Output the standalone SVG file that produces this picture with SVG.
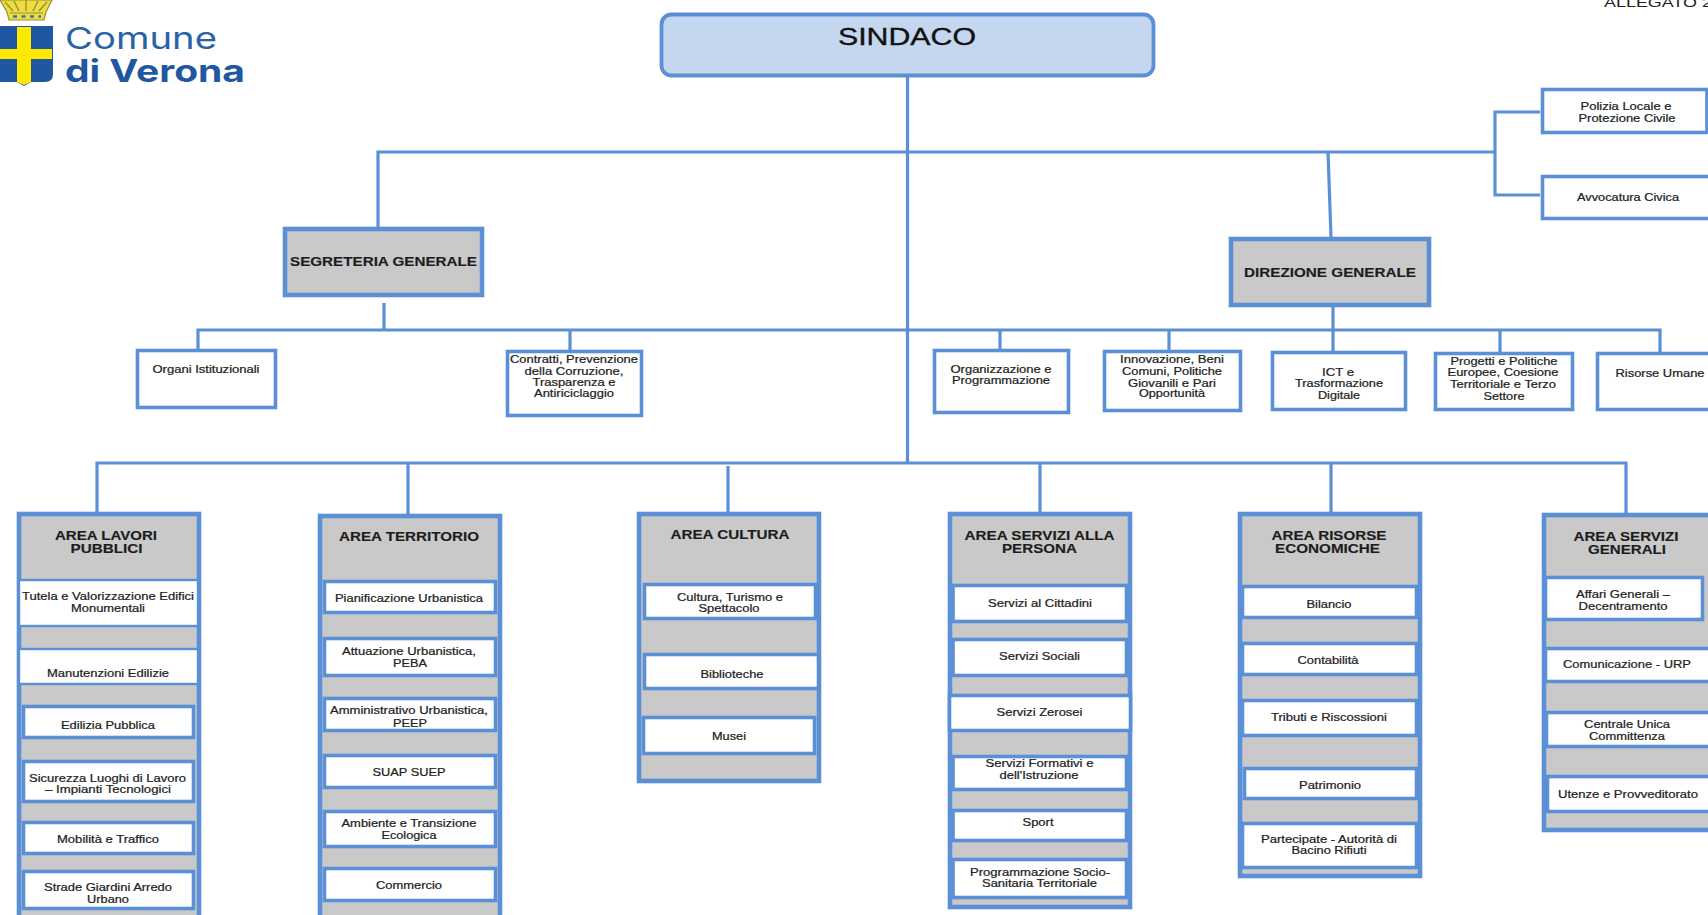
<svg xmlns="http://www.w3.org/2000/svg" width="1708" height="915" viewBox="0 0 1708 915">
<style>
text{font-family:"Liberation Sans",Arial,sans-serif;fill:#222;text-anchor:middle}
.s{font-size:10.5px;stroke:#222;stroke-width:.22}
.b{font-size:13px;font-weight:bold;fill:#1c1c1c;stroke:#1c1c1c;stroke-width:.15}
.box{fill:#fff;stroke:#5B8FD6;stroke-width:3.6}
.thin{stroke-width:2.4}
.gray{fill:#C9C9C9;stroke:#5B8FD6;stroke-width:4.6}
.c{fill:none;stroke:#5B8FD6;stroke-width:3.2}
</style>
<rect width="1708" height="915" fill="#fff"/>
<g id="logo">
<path d="M0 0H52L46 12L44 20H9L7 12Z" fill="#F0DC3C" stroke="#8E9440" stroke-width="1.2"/>
<path d="M5 2L13 11M14 1L19 11M26 0V11M38 1L33 11M47 2L39 11" stroke="#8E9440" stroke-width="1.4" fill="none"/>
<path d="M10 13H43" stroke="#8E9440" stroke-width="1"/>
<path d="M13 16.5H41" stroke="#3F6FA8" stroke-width="2.5" stroke-dasharray="4 4.5"/>
<path d="M-1 26H53V74Q53 82 45 82H31L24 86L17 82H-1Z" fill="#1F57A0"/>
<path d="M17 27H31V49H52V59H31V82L24 85L17 82V59H-1V49H17Z" fill="#FFE900"/>
<text x="65" y="49" font-size="30" textLength="152" lengthAdjust="spacingAndGlyphs" style="font-family:Inter,sans-serif;fill:#2A62A8;text-anchor:start">Comune</text>
<text x="65" y="82" font-size="31" font-weight="bold" textLength="180" lengthAdjust="spacingAndGlyphs" style="font-family:Inter,sans-serif;fill:#1F57A0;text-anchor:start;font-weight:bold">di Verona</text>
</g>
<text id="allegato" x="1604" y="7" font-size="12" textLength="108" lengthAdjust="spacingAndGlyphs" style="text-anchor:start">ALLEGATO 2</text>
<g id="connectors" class="c">
<path class="c" d="M907.5 77V463"/>
<path class="c" d="M378 227V152H1495"/>
<path class="c" d="M1540 112H1495V195H1540"/>
<path class="c" d="M1328 152L1331 237"/>
<path class="c" d="M384 303V330"/>
<path class="c" d="M198 349V330H1660V352"/>
<path class="c" d="M570 330V350M1000 330V349M1169 330V350M1333 307V351M1500 330V352"/>
<path class="c" d="M97 512V463H1626V513"/>
<path class="c" d="M408 463V514M728 466V512M1040 463V512M1331 463V512"/>
</g>
<g id="sindaco"><rect x="661.5" y="14.5" width="492" height="61" rx="10" fill="#C5D7EF" stroke="#5B8FD6" stroke-width="3.8"/><text x="907" y="45" font-size="24" textLength="138" lengthAdjust="spacingAndGlyphs" style="fill:#111;stroke:#111;stroke-width:.35">SINDACO</text></g>
<g id="segreteria"><rect class="gray" x="285" y="229" width="197" height="66"/><text class="b" x="383.5" y="266" textLength="187" lengthAdjust="spacingAndGlyphs">SEGRETERIA GENERALE</text></g>
<g id="direzione"><rect class="gray" x="1231" y="239" width="198" height="66"/><text class="b" x="1330" y="277" textLength="172" lengthAdjust="spacingAndGlyphs">DIREZIONE GENERALE</text></g>
<g id="polizia"><rect class="box" x="1542.5" y="89.5" width="164.5" height="43"/><text class="s" x="1626" y="110" textLength="91" lengthAdjust="spacingAndGlyphs">Polizia Locale e</text><text class="s" x="1627" y="122" textLength="97" lengthAdjust="spacingAndGlyphs">Protezione Civile</text></g>
<g id="avvocatura"><rect class="box" x="1542.5" y="176.5" width="170" height="42"/><text class="s" x="1628" y="201" textLength="102" lengthAdjust="spacingAndGlyphs">Avvocatura Civica</text></g>
<g id="organi"><rect class="box" x="137.5" y="350.5" width="138" height="57"/><text class="s" x="206" y="373" textLength="107" lengthAdjust="spacingAndGlyphs">Organi Istituzionali</text></g>
<g id="contratti"><rect class="box" x="507.5" y="351.5" width="134" height="64"/><text class="s" x="574" y="363" textLength="128" lengthAdjust="spacingAndGlyphs">Contratti, Prevenzione</text><text class="s" x="574" y="375" textLength="99" lengthAdjust="spacingAndGlyphs">della Corruzione,</text><text class="s" x="574" y="386" textLength="83" lengthAdjust="spacingAndGlyphs">Trasparenza e</text><text class="s" x="574" y="397" textLength="80" lengthAdjust="spacingAndGlyphs">Antiriciclaggio</text></g>
<g id="organizzazione"><rect class="box" x="934.5" y="350.5" width="134" height="62"/><text class="s" x="1001" y="373" textLength="101" lengthAdjust="spacingAndGlyphs">Organizzazione e</text><text class="s" x="1001" y="384" textLength="98" lengthAdjust="spacingAndGlyphs">Programmazione</text></g>
<g id="innovazione"><rect class="box" x="1104.5" y="351.5" width="136" height="59"/><text class="s" x="1172" y="363" textLength="104" lengthAdjust="spacingAndGlyphs">Innovazione, Beni</text><text class="s" x="1172" y="375" textLength="100" lengthAdjust="spacingAndGlyphs">Comuni, Politiche</text><text class="s" x="1172" y="387" textLength="88" lengthAdjust="spacingAndGlyphs">Giovanili e Pari</text><text class="s" x="1172" y="397" textLength="66" lengthAdjust="spacingAndGlyphs">Opportunità</text></g>
<g id="ict"><rect class="box" x="1272.5" y="352.5" width="133" height="57"/><text class="s" x="1338" y="376" textLength="32" lengthAdjust="spacingAndGlyphs">ICT e</text><text class="s" x="1339" y="387" textLength="88" lengthAdjust="spacingAndGlyphs">Trasformazione</text><text class="s" x="1339" y="399" textLength="42" lengthAdjust="spacingAndGlyphs">Digitale</text></g>
<g id="progetti"><rect class="box" x="1435.5" y="353.5" width="137" height="56"/><text class="s" x="1504" y="365" textLength="107" lengthAdjust="spacingAndGlyphs">Progetti e Politiche</text><text class="s" x="1503" y="376" textLength="111" lengthAdjust="spacingAndGlyphs">Europee, Coesione</text><text class="s" x="1503" y="388" textLength="106" lengthAdjust="spacingAndGlyphs">Territoriale e Terzo</text><text class="s" x="1504" y="400" textLength="41" lengthAdjust="spacingAndGlyphs">Settore</text></g>
<g id="risorse-umane"><rect class="box" x="1597.5" y="353.5" width="140" height="56"/><text class="s" x="1660" y="377" textLength="89" lengthAdjust="spacingAndGlyphs">Risorse Umane</text></g>

<g id="area-lavori-pubblici"><rect class="gray" x="19" y="514" width="180" height="420"/><text class="b" x="106" y="540" textLength="102" lengthAdjust="spacingAndGlyphs">AREA LAVORI</text><text class="b" x="106.5" y="553" textLength="72" lengthAdjust="spacingAndGlyphs">PUBBLICI</text>
<rect class="box thin" x="19" y="580" width="179" height="46"/><text class="s" x="108" y="600" textLength="172" lengthAdjust="spacingAndGlyphs">Tutela e Valorizzazione Edifici</text><text class="s" x="108" y="612" textLength="74" lengthAdjust="spacingAndGlyphs">Monumentali</text>
<rect class="box thin" x="19" y="649" width="179" height="35"/><text class="s" x="108" y="677" textLength="122" lengthAdjust="spacingAndGlyphs">Manutenzioni Edilizie</text>
<rect class="box" x="23.5" y="706.5" width="170" height="31"/><text class="s" x="108" y="729" textLength="94" lengthAdjust="spacingAndGlyphs">Edilizia Pubblica</text>
<rect class="box" x="23.5" y="761.5" width="170" height="40"/><text class="s" x="107.5" y="782" textLength="157" lengthAdjust="spacingAndGlyphs">Sicurezza Luoghi di Lavoro</text><text class="s" x="108" y="793" textLength="126" lengthAdjust="spacingAndGlyphs">– Impianti Tecnologici</text>
<rect class="box" x="23.5" y="822.5" width="170" height="31"/><text class="s" x="108" y="843" textLength="102" lengthAdjust="spacingAndGlyphs">Mobilità e Traffico</text>
<rect class="box" x="23.5" y="871.5" width="170" height="37"/><text class="s" x="108" y="891" textLength="128" lengthAdjust="spacingAndGlyphs">Strade Giardini Arredo</text><text class="s" x="108" y="903" textLength="42" lengthAdjust="spacingAndGlyphs">Urbano</text></g>

<g id="area-territorio"><rect class="gray" x="320" y="516" width="180" height="420"/><text class="b" x="409" y="541" textLength="140" lengthAdjust="spacingAndGlyphs">AREA TERRITORIO</text>
<rect class="box" x="324.5" y="581.5" width="171" height="31"/><text class="s" x="409" y="602" textLength="148" lengthAdjust="spacingAndGlyphs">Pianificazione Urbanistica</text>
<rect class="box" x="324.5" y="638.5" width="171" height="37"/><text class="s" x="409" y="655" textLength="134" lengthAdjust="spacingAndGlyphs">Attuazione Urbanistica,</text><text class="s" x="410" y="667" textLength="34" lengthAdjust="spacingAndGlyphs">PEBA</text>
<rect class="box" x="324.5" y="698.5" width="171" height="32"/><text class="s" x="409" y="714" textLength="158" lengthAdjust="spacingAndGlyphs">Amministrativo Urbanistica,</text><text class="s" x="410" y="727" textLength="34" lengthAdjust="spacingAndGlyphs">PEEP</text>
<rect class="box" x="324.5" y="755.5" width="171" height="32"/><text class="s" x="409" y="776" textLength="73" lengthAdjust="spacingAndGlyphs">SUAP SUEP</text>
<rect class="box" x="324.5" y="811.5" width="171" height="35"/><text class="s" x="409" y="827" textLength="135" lengthAdjust="spacingAndGlyphs">Ambiente e Transizione</text><text class="s" x="409" y="839" textLength="55" lengthAdjust="spacingAndGlyphs">Ecologica</text>
<rect class="box" x="324.5" y="868.5" width="171" height="32"/><text class="s" x="409" y="889" textLength="66" lengthAdjust="spacingAndGlyphs">Commercio</text></g>

<g id="area-cultura"><rect class="gray" x="639" y="514" width="180" height="267"/><text class="b" x="730" y="539" textLength="119" lengthAdjust="spacingAndGlyphs">AREA CULTURA</text>
<rect class="box" x="644.5" y="584.5" width="171" height="34"/><text class="s" x="730" y="601" textLength="106" lengthAdjust="spacingAndGlyphs">Cultura, Turismo e</text><text class="s" x="729" y="612" textLength="61" lengthAdjust="spacingAndGlyphs">Spettacolo</text>
<rect class="box" x="644.5" y="654.5" width="174" height="34"/><text class="s" x="732" y="678" textLength="63" lengthAdjust="spacingAndGlyphs">Biblioteche</text>
<rect class="box" x="643.5" y="717.5" width="171" height="36"/><text class="s" x="729" y="740" textLength="34" lengthAdjust="spacingAndGlyphs">Musei</text></g>

<g id="area-servizi-persona"><rect class="gray" x="950" y="514" width="180" height="393"/><text class="b" x="1039.5" y="540" textLength="150" lengthAdjust="spacingAndGlyphs">AREA SERVIZI ALLA</text><text class="b" x="1039.5" y="553" textLength="75" lengthAdjust="spacingAndGlyphs">PERSONA</text>
<rect class="box" x="953" y="585.5" width="173.5" height="36"/><text class="s" x="1040" y="607" textLength="104" lengthAdjust="spacingAndGlyphs">Servizi al Cittadini</text>
<rect class="box" x="953" y="639.5" width="173.5" height="36"/><text class="s" x="1039.5" y="660" textLength="81" lengthAdjust="spacingAndGlyphs">Servizi Sociali</text>
<rect class="box" x="949.5" y="695.5" width="181" height="35"/><text class="s" x="1039.5" y="716" textLength="86" lengthAdjust="spacingAndGlyphs">Servizi Zerosei</text>
<rect class="box" x="953" y="756.5" width="173.5" height="33"/><text class="s" x="1039.5" y="767" textLength="108" lengthAdjust="spacingAndGlyphs">Servizi Formativi e</text><text class="s" x="1039" y="779" textLength="79" lengthAdjust="spacingAndGlyphs">dell'Istruzione</text>
<rect class="box" x="953" y="810.5" width="173.5" height="30"/><text class="s" x="1038" y="826" textLength="31" lengthAdjust="spacingAndGlyphs">Sport</text>
<rect class="box" x="953" y="859.5" width="173.5" height="38"/><text class="s" x="1040" y="876" textLength="140" lengthAdjust="spacingAndGlyphs">Programmazione Socio-</text><text class="s" x="1039.5" y="887" textLength="115" lengthAdjust="spacingAndGlyphs">Sanitaria Territoriale</text></g>

<g id="area-risorse-economiche"><rect class="gray" x="1240" y="514" width="180" height="362"/><text class="b" x="1329" y="540" textLength="115" lengthAdjust="spacingAndGlyphs">AREA RISORSE</text><text class="b" x="1327.5" y="553" textLength="105" lengthAdjust="spacingAndGlyphs">ECONOMICHE</text>
<rect class="box" x="1242.5" y="586.5" width="174" height="31"/><text class="s" x="1329" y="608" textLength="45" lengthAdjust="spacingAndGlyphs">Bilancio</text>
<rect class="box" x="1242.5" y="643.5" width="174" height="31"/><text class="s" x="1328" y="664" textLength="61" lengthAdjust="spacingAndGlyphs">Contabilità</text>
<rect class="box" x="1242.5" y="700.5" width="174" height="35"/><text class="s" x="1329" y="721" textLength="116" lengthAdjust="spacingAndGlyphs">Tributi e Riscossioni</text>
<rect class="box" x="1244.5" y="768.5" width="172" height="30"/><text class="s" x="1330" y="789" textLength="62" lengthAdjust="spacingAndGlyphs">Patrimonio</text>
<rect class="box" x="1242.5" y="823.5" width="174" height="44"/><text class="s" x="1329" y="843" textLength="136" lengthAdjust="spacingAndGlyphs">Partecipate - Autorità di</text><text class="s" x="1329" y="854" textLength="75" lengthAdjust="spacingAndGlyphs">Bacino Rifiuti</text></g>

<g id="area-servizi-generali"><rect class="gray" x="1544" y="515" width="200" height="315"/><text class="b" x="1626" y="541" textLength="105" lengthAdjust="spacingAndGlyphs">AREA SERVIZI</text><text class="b" x="1627" y="554" textLength="78" lengthAdjust="spacingAndGlyphs">GENERALI</text>
<rect class="box" x="1545.5" y="577.5" width="157" height="42"/><text class="s" x="1623" y="598" textLength="94" lengthAdjust="spacingAndGlyphs">Affari Generali –</text><text class="s" x="1623" y="610" textLength="89" lengthAdjust="spacingAndGlyphs">Decentramento</text>
<rect class="box" x="1545.5" y="648.5" width="170" height="33"/><text class="s" x="1627" y="668" textLength="128" lengthAdjust="spacingAndGlyphs">Comunicazione - URP</text>
<rect class="box" x="1546.5" y="712.5" width="170" height="34"/><text class="s" x="1627" y="728" textLength="86" lengthAdjust="spacingAndGlyphs">Centrale Unica</text><text class="s" x="1627" y="740" textLength="76" lengthAdjust="spacingAndGlyphs">Committenza</text>
<rect class="box" x="1547.5" y="776.5" width="170" height="35"/><text class="s" x="1628" y="798" textLength="140" lengthAdjust="spacingAndGlyphs">Utenze e Provveditorato</text></g>
</svg>
